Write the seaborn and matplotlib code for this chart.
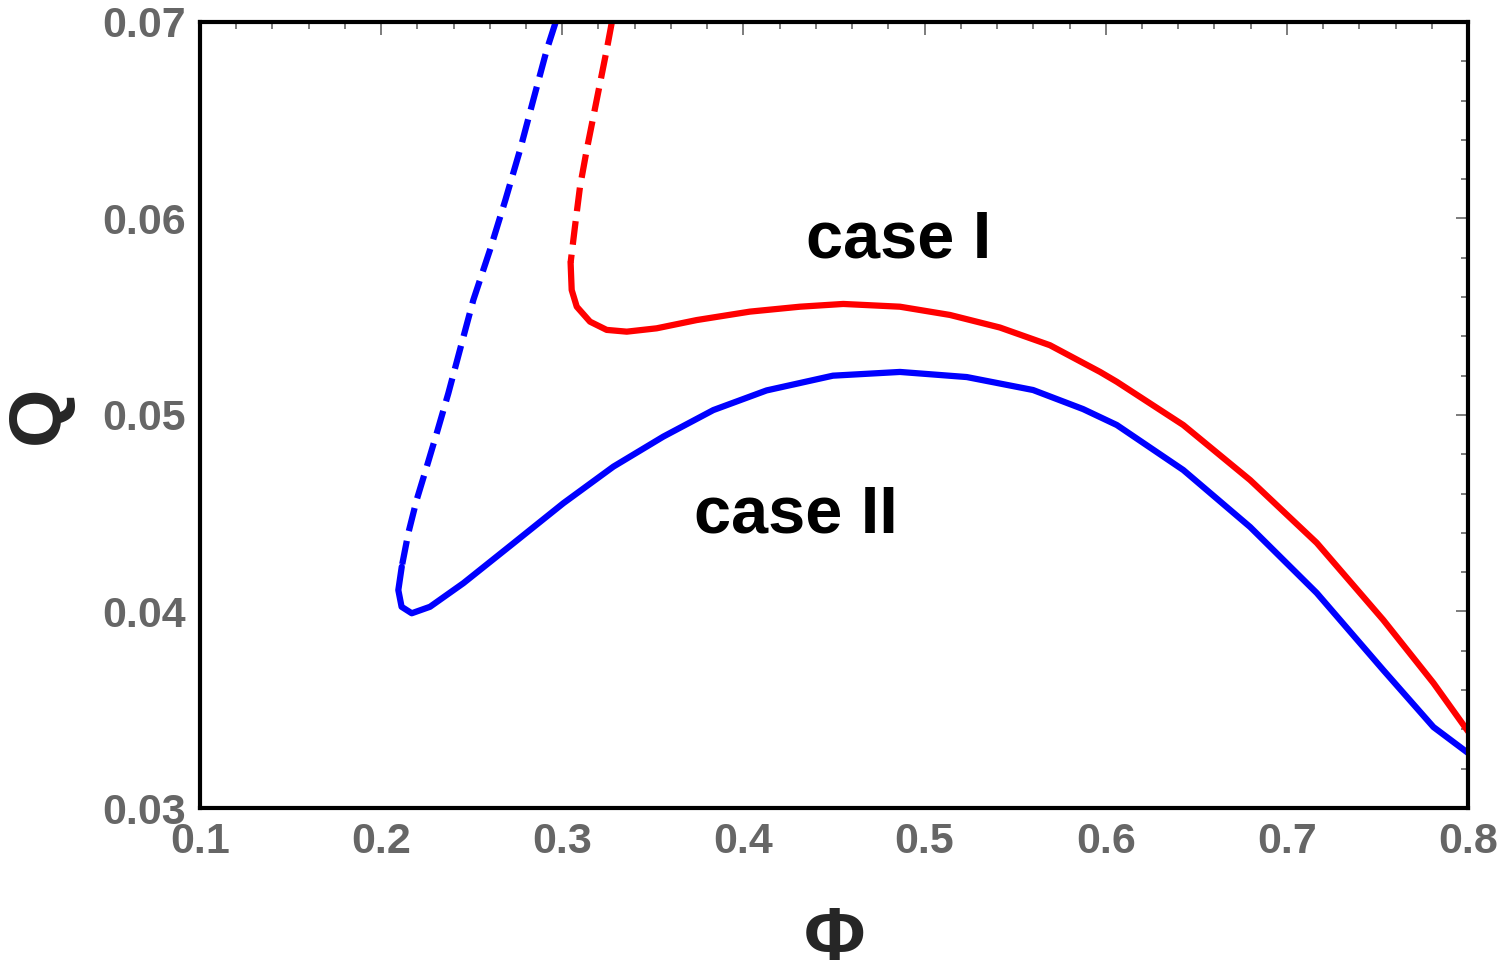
import numpy as np
import pandas as pd
import matplotlib
matplotlib.use("Agg")
import matplotlib.pyplot as plt
import seaborn as sns
from matplotlib.ticker import MultipleLocator

# case I (red): dashed branch, then solid branch
red_dash_phi = [0.3274, 0.3245, 0.3190, 0.3135, 0.3098, 0.3070, 0.3046]
red_dash_q = [0.0700, 0.06857, 0.06603, 0.06349, 0.06162, 0.05958, 0.05775]
red_solid_phi = [0.3046, 0.3052, 0.3080, 0.3153, 0.3245, 0.3356, 0.3521, 0.3742, 0.4036,
                 0.4312, 0.4551, 0.4864, 0.5140, 0.5416, 0.5692, 0.5969, 0.6061, 0.6428,
                 0.6797, 0.7165, 0.7532, 0.7809, 0.8000]
red_solid_q = [0.05775, 0.05636, 0.05551, 0.05475, 0.05433, 0.05424, 0.05441, 0.05483, 0.05526,
               0.05551, 0.05565, 0.05551, 0.05509, 0.05445, 0.05355, 0.05219, 0.05169, 0.04949,
               0.04669, 0.04349, 0.03957, 0.03636, 0.03390]

# case II (blue)
blue_dash_phi = [0.2964, 0.2914, 0.2840, 0.2767, 0.2686, 0.2601, 0.2509, 0.2435, 0.2371,
                 0.2307, 0.2252, 0.2196, 0.2150, 0.2114]
blue_dash_q = [0.0700, 0.06857, 0.06603, 0.06349, 0.06094, 0.05840, 0.05585, 0.05331, 0.05110,
               0.04907, 0.04737, 0.04567, 0.04398, 0.04228]
blue_solid_phi = [0.2114, 0.2095, 0.2113, 0.2169, 0.2270, 0.2454, 0.2730, 0.3006, 0.3282,
                  0.3558, 0.3834, 0.4128, 0.4494, 0.4864, 0.5233, 0.5599, 0.5875, 0.6061,
                  0.6428, 0.6797, 0.7165, 0.7532, 0.7809, 0.8000]
blue_solid_q = [0.04228, 0.04109, 0.04024, 0.03991, 0.04024, 0.04144, 0.04347, 0.04551, 0.04737,
                0.04890, 0.05025, 0.05125, 0.05200, 0.05219, 0.05193, 0.05127, 0.05030, 0.04949,
                0.04720, 0.04430, 0.04094, 0.03702, 0.03412, 0.03280]

labels = ["case I", "case II"]
label_phi = [0.4854, 0.4290]
label_q = [0.0589, 0.0449]

sns.set_style("white")
plt.rcParams['font.family'] = ['Liberation Sans', 'DejaVu Sans']

fig = plt.figure(figsize=(15, 9.8), dpi=100)
ax = fig.add_axes([0.1333, 0.1755, 0.8454, 0.8021])

lw = 4.5
segments = [
    (red_dash_phi, red_dash_q, "#ff0000", True),
    (red_solid_phi, red_solid_q, "#ff0000", False),
    (blue_dash_phi, blue_dash_q, "#0000ff", True),
    (blue_solid_phi, blue_solid_q, "#0000ff", False),
]
for phi, q, col, dashed in segments:
    df = pd.DataFrame({"phi": phi, "q": q})
    sns.lineplot(data=df, x="phi", y="q", sort=False, color=col,
                 linewidth=lw, ax=ax, estimator=None)
    ln = ax.lines[-1]
    ln.set_linewidth(lw)
    if dashed:
        ln.set_dashes((3.8, 1.6))
    ln.set_solid_joinstyle("round")

for txt, x, y in zip(labels, label_phi, label_q):
    ax.text(x, y, txt, fontsize=48, fontweight="bold", ha="center", va="center", color="black")

ax.set_xlim(0.1, 0.8)
ax.set_ylim(0.03, 0.07)
ax.xaxis.set_minor_locator(MultipleLocator(0.02))
ax.yaxis.set_minor_locator(MultipleLocator(0.002))
ax.set_xticks(np.arange(0.1, 0.81, 0.1))
ax.set_yticks(np.arange(0.03, 0.0701, 0.01))
ax.set_xticklabels([f"{v:.1f}" for v in ax.get_xticks()])
ax.set_yticklabels([f"{v:.2f}" for v in ax.get_yticks()])

ax.tick_params(which="both", direction="in", top=True, right=True, color="#666666")
ax.tick_params(which="major", length=9, width=3, labelsize=31, labelcolor="#666666", pad=10)
ax.tick_params(which="minor", length=5, width=3)
for lab in ax.get_xticklabels() + ax.get_yticklabels():
    lab.set_fontweight("bold")

# lighter, thinner ticks on the top and right edges
for axis in (ax.xaxis, ax.yaxis):
    for t in axis.get_major_ticks() + axis.get_minor_ticks():
        t.tick2line.set_color("#bbbbbb")
        t.tick2line.set_markeredgewidth(1.2)

for sp in ax.spines.values():
    sp.set_visible(True)
    sp.set_color("black")
    sp.set_linewidth(3)

ax.set_xlabel("Φ", fontsize=54, fontweight="bold")
ax.set_ylabel("Q", fontsize=54, fontweight="bold")
ax.xaxis.set_label_coords(0.5, -0.125)
ax.yaxis.set_label_coords(-0.100, 0.5)

fig.savefig("out.png", dpi=100, facecolor="white")
